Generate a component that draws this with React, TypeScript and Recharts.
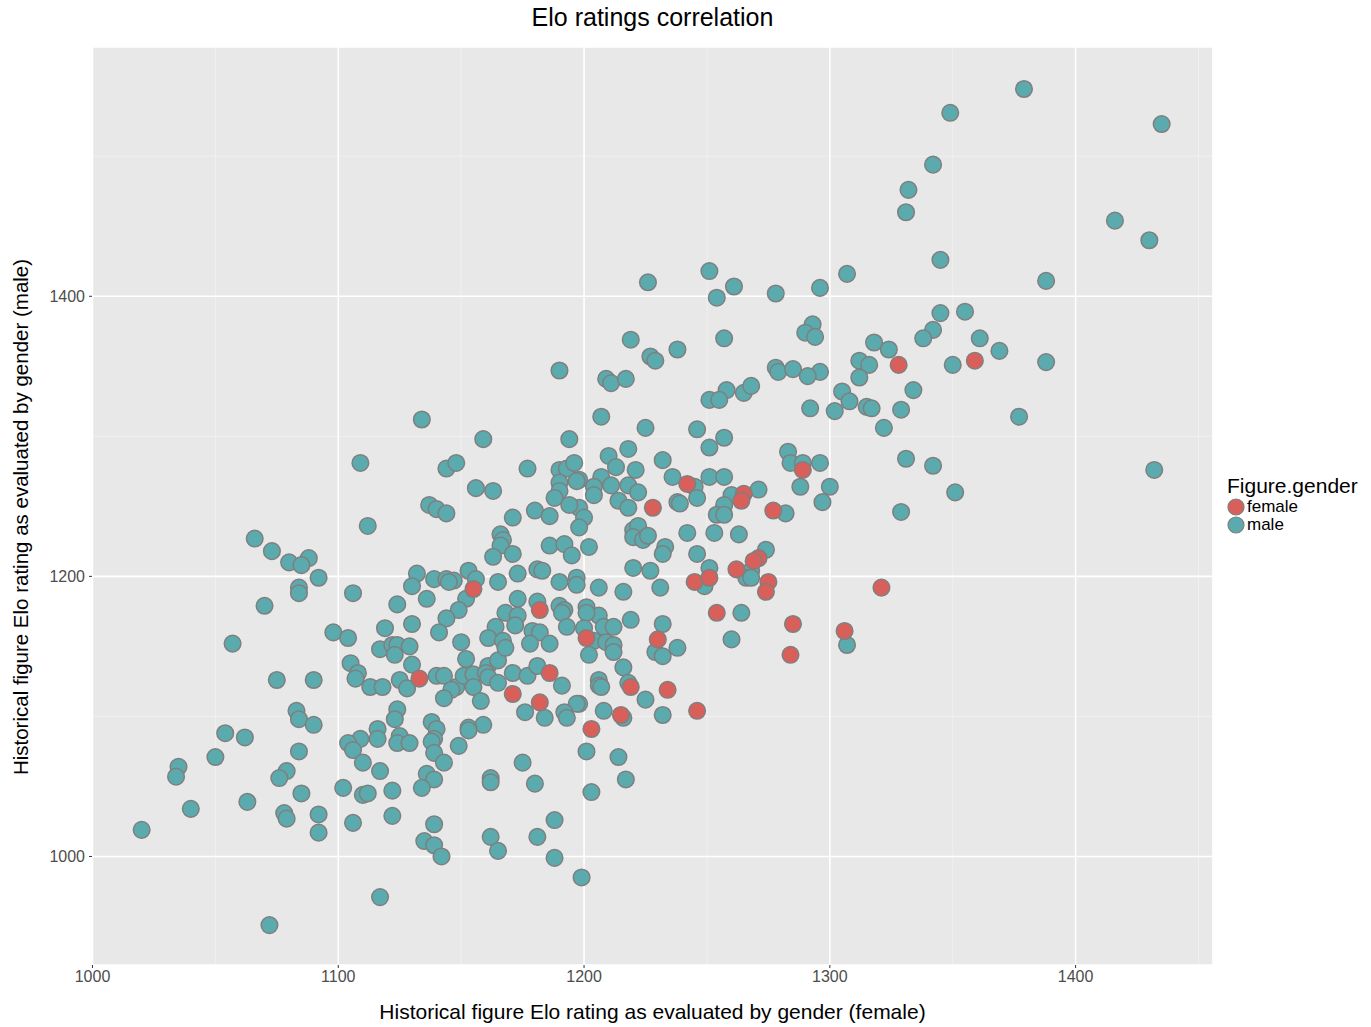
import React from "react";
import {
  ScatterChart,
  Scatter,
  XAxis,
  YAxis,
  CartesianGrid,
} from "recharts";

// [female-rated Elo, male-rated Elo] per historical figure
const femaleFigures: [number, number][] = [
  [1328, 1351], [1359, 1354], [1321, 1192], [1242, 1266], [1265, 1259],
  [1264, 1254], [1277, 1247], [1228, 1249], [1289, 1276], [1271, 1213],
  [1269, 1211], [1262, 1205], [1245, 1196], [1251, 1199], [1275, 1196],
  [1274, 1189], [1254, 1174], [1285, 1166], [1306, 1161], [1284, 1144],
  [1201, 1156], [1230, 1155], [1219, 1121], [1234, 1119], [1215, 1101],
  [1246, 1104], [1203, 1091], [1133, 1127], [1186, 1131], [1171, 1116],
  [1182, 1110], [1155, 1191], [1182, 1176],
];

const maleFigures: [number, number][] = [
  [1379, 1548], [1349, 1531], [1435, 1523], [1342, 1494], [1332, 1476],
  [1331, 1460], [1416, 1454], [1430, 1440], [1345, 1426], [1307, 1416],
  [1296, 1406], [1388, 1411], [1345, 1388], [1355, 1389], [1342, 1376],
  [1338, 1370], [1361, 1370], [1369, 1361], [1318, 1367], [1324, 1362],
  [1312, 1354], [1316, 1351], [1350, 1351], [1388, 1353], [1312, 1342],
  [1305, 1332], [1334, 1333], [1308, 1325], [1315, 1321], [1317, 1320],
  [1302, 1318], [1329, 1319], [1377, 1314], [1322, 1306], [1331, 1284],
  [1342, 1279], [1432, 1276], [1300, 1264], [1351, 1260], [1296, 1281],
  [1296, 1346], [1329, 1246],
  [1190, 1347], [1226, 1410], [1219, 1369], [1227, 1357], [1229, 1354],
  [1238, 1362], [1209, 1341], [1211, 1338], [1217, 1341], [1251, 1418],
  [1261, 1407], [1254, 1399], [1278, 1402], [1257, 1370], [1293, 1380],
  [1290, 1374], [1294, 1371], [1278, 1349], [1279, 1346], [1285, 1348],
  [1291, 1343], [1258, 1333], [1265, 1331], [1268, 1336], [1251, 1326],
  [1255, 1326],
  [1207, 1314], [1225, 1306], [1292, 1320], [1246, 1305], [1251, 1292],
  [1257, 1299], [1218, 1291], [1210, 1286], [1213, 1278], [1232, 1283],
  [1221, 1276], [1207, 1271], [1211, 1265], [1204, 1264], [1204, 1258],
  [1198, 1269], [1218, 1265], [1222, 1260], [1236, 1271], [1245, 1264],
  [1246, 1256], [1251, 1271], [1257, 1271], [1260, 1258], [1271, 1262],
  [1257, 1251], [1254, 1244], [1257, 1244], [1282, 1245], [1214, 1254],
  [1218, 1249], [1238, 1253], [1239, 1252], [1283, 1289], [1284, 1281],
  [1289, 1281], [1288, 1264], [1297, 1253], [1198, 1249], [1200, 1242],
  [1198, 1235], [1202, 1221], [1220, 1233], [1222, 1236], [1220, 1228],
  [1224, 1226], [1226, 1229], [1242, 1231], [1253, 1231], [1263, 1230],
  [1233, 1221], [1232, 1216], [1246, 1216], [1274, 1219], [1268, 1204],
  [1251, 1206], [1266, 1199], [1268, 1199], [1249, 1193], [1220, 1206],
  [1227, 1204], [1231, 1192], [1206, 1192], [1216, 1189], [1264, 1174],
  [1307, 1151], [1260, 1155], [1219, 1169], [1232, 1166], [1206, 1172],
  [1208, 1164], [1212, 1164], [1204, 1154], [1209, 1153], [1212, 1151],
  [1212, 1146], [1202, 1144], [1229, 1146], [1232, 1143], [1238, 1149],
  [1216, 1135], [1206, 1126], [1218, 1124],
  [1206, 1122], [1207, 1121], [1225, 1112], [1198, 1109], [1208, 1104],
  [1216, 1099], [1232, 1101], [1201, 1075], [1214, 1071], [1217, 1055],
  [1203, 1046], [1199, 985],
  [1105, 1138], [1108, 1131], [1107, 1127], [1113, 1121], [1118, 1121],
  [1130, 1137], [1125, 1126], [1128, 1120], [1140, 1129], [1143, 1129],
  [1152, 1141], [1148, 1121], [1146, 1119], [1143, 1113], [1151, 1129],
  [1155, 1130], [1161, 1136], [1165, 1140], [1160, 1131], [1161, 1128],
  [1165, 1124], [1155, 1121], [1158, 1111], [1171, 1131], [1177, 1129],
  [1181, 1136], [1176, 1103], [1184, 1099], [1191, 1122], [1197, 1109],
  [1192, 1103], [1193, 1099], [1188, 1026], [1181, 1014], [1188, 999],
  [1175, 1067], [1180, 1052], [1162, 1056], [1162, 1053], [1162, 1014],
  [1165, 1004], [1159, 1094], [1153, 1092], [1153, 1090], [1149, 1079],
  [1138, 1096], [1140, 1091], [1139, 1084], [1138, 1082], [1139, 1074],
  [1143, 1067], [1136, 1059], [1139, 1055], [1134, 1049], [1139, 1023],
  [1135, 1011], [1139, 1008], [1142, 1000], [1124, 1105], [1123, 1098],
  [1116, 1091], [1116, 1084], [1109, 1084], [1104, 1081], [1106, 1076],
  [1110, 1067], [1117, 1061], [1125, 1086], [1124, 1081], [1129, 1081],
  [1122, 1047], [1102, 1049], [1110, 1044], [1112, 1045], [1106, 1024],
  [1122, 1029], [1117, 971],
  [1112, 1236], [1066, 1227], [1073, 1218], [1080, 1210], [1088, 1213],
  [1085, 1208], [1092, 1199], [1084, 1192], [1084, 1188], [1106, 1188],
  [1070, 1179], [1124, 1180], [1057, 1152], [1098, 1160], [1104, 1156],
  [1119, 1163], [1117, 1148], [1122, 1151], [1124, 1151], [1123, 1144],
  [1075, 1126], [1090, 1126], [1083, 1104], [1084, 1098], [1090, 1094],
  [1054, 1088], [1062, 1085], [1050, 1071], [1035, 1064], [1034, 1057],
  [1040, 1034], [1020, 1019], [1084, 1075], [1079, 1061], [1076, 1056],
  [1085, 1045], [1063, 1039], [1078, 1031], [1079, 1027], [1092, 1030],
  [1092, 1017], [1072, 951],
  [1134, 1312], [1159, 1298], [1194, 1298], [1109, 1281], [1144, 1277],
  [1148, 1281], [1177, 1277], [1190, 1276], [1193, 1277], [1196, 1281],
  [1190, 1267], [1190, 1261], [1188, 1256], [1197, 1268], [1156, 1263],
  [1163, 1261], [1137, 1251], [1140, 1248], [1144, 1245], [1171, 1242],
  [1180, 1247], [1186, 1243], [1194, 1251], [1166, 1230], [1167, 1226],
  [1166, 1222], [1163, 1214], [1171, 1216], [1186, 1222], [1192, 1223],
  [1195, 1215], [1132, 1202], [1130, 1193], [1139, 1198], [1144, 1198],
  [1147, 1197], [1145, 1196], [1153, 1204], [1156, 1198], [1152, 1184],
  [1149, 1176], [1144, 1170], [1141, 1160], [1165, 1196], [1173, 1202],
  [1181, 1205], [1183, 1204], [1190, 1196], [1197, 1199], [1197, 1194],
  [1136, 1184], [1173, 1184], [1181, 1182], [1190, 1179], [1192, 1176],
  [1191, 1174], [1201, 1178], [1201, 1174], [1130, 1166], [1168, 1174],
  [1173, 1172], [1172, 1165], [1164, 1164], [1161, 1156], [1167, 1154],
  [1168, 1149], [1150, 1153], [1179, 1161], [1182, 1160], [1178, 1152],
  [1186, 1152], [1193, 1164], [1200, 1163], [1129, 1150],
];

const xTicks = [1000, 1100, 1200, 1300, 1400];
const xMinorTicks = [1050, 1150, 1250, 1350, 1450];
const yTicks = [1000, 1200, 1400];
const yMinorTicks = [1100, 1300, 1500];

const FEMALE_COLOR = "#D9605A";
const MALE_COLOR = "#5BAAAD";
const FONT = "'Liberation Sans', Arial, sans-serif";

const toPoints = (rows: [number, number][]) => rows.map(([x, y]) => ({ x, y }));

const dot = (color: string) => (props: any) => (
  <circle
    cx={props.cx}
    cy={props.cy}
    r={8.3}
    fill={color}
    stroke="#7F7F7F"
    strokeWidth={1.5}
  />
);

export default function App() {
  const xDomain: [number, number] = [999.8, 1455.9];
  const yDomain: [number, number] = [922.5, 1578];

  return (
    <div style={{ position: "absolute", left: 0, top: 0, width: 1371, height: 1027, background: "#fff", fontFamily: FONT }}>
      <ScatterChart
        width={1371}
        height={1027}
        margin={{ top: 47, right: 158, bottom: 0, left: 0 }}
      >
        <CartesianGrid
          xAxisId="minor"
          yAxisId="minor"
          fill="#E8E8E8"
          stroke="#F3F3F3"
          strokeWidth={0.8}
        />
        <CartesianGrid stroke="#FFFFFF" strokeWidth={1.6} />
        <XAxis
          xAxisId="minor"
          type="number"
          dataKey="x"
          domain={xDomain}
          ticks={xMinorTicks}
          allowDataOverflow
          hide
        />
        <YAxis
          yAxisId="minor"
          type="number"
          dataKey="y"
          domain={yDomain}
          ticks={yMinorTicks}
          allowDataOverflow
          hide
        />
        <XAxis
          type="number"
          dataKey="x"
          domain={xDomain}
          ticks={xTicks}
          allowDataOverflow
          height={62}
          axisLine={false}
          tickSize={3}
          tickMargin={3}
          tickLine={{ stroke: "#333333" }}
          tick={{ fill: "#4D4D4D", fontSize: 16, fontFamily: FONT }}
        />
        <YAxis
          type="number"
          dataKey="y"
          domain={yDomain}
          ticks={yTicks}
          allowDataOverflow
          width={92}
          axisLine={false}
          tickSize={3}
          tickMargin={4}
          tickLine={{ stroke: "#333333" }}
          tick={{ fill: "#4D4D4D", fontSize: 16, fontFamily: FONT }}
        />
        <Scatter
          name="male"
          data={toPoints(maleFigures)}
          shape={dot(MALE_COLOR)}
          isAnimationActive={false}
        />
        <Scatter
          name="female"
          data={toPoints(femaleFigures)}
          shape={dot(FEMALE_COLOR)}
          isAnimationActive={false}
        />
      </ScatterChart>

      <div style={{ position: "absolute", left: 92, width: 1121, top: 3, textAlign: "center", fontSize: 25, color: "#000" }}>
        Elo ratings correlation
      </div>
      <div style={{ position: "absolute", left: 92, width: 1121, top: 1000, textAlign: "center", fontSize: 21, color: "#000" }}>
        Historical figure Elo rating as evaluated by gender (female)
      </div>
      <div
        style={{
          position: "absolute",
          left: 21,
          top: 517,
          transform: "translate(-50%, -50%) rotate(-90deg)",
          whiteSpace: "nowrap",
          fontSize: 20.5,
          color: "#000",
        }}
      >
        Historical figure Elo rating as evaluated by gender (male)
      </div>

      <div style={{ position: "absolute", left: 1227, top: 474, fontSize: 21, lineHeight: "24px", color: "#000" }}>
        Figure.gender
        {[
          { label: "female", color: FEMALE_COLOR },
          { label: "male", color: MALE_COLOR },
        ].map((item) => (
          <div key={item.label} style={{ display: "flex", alignItems: "center", height: 18, fontSize: 17, lineHeight: "18px" }}>
            <svg width={19} height={18}>
              <circle cx={9} cy={9} r={8} fill={item.color} stroke="#7F7F7F" strokeWidth={1.2} />
            </svg>
            <span style={{ marginLeft: 1 }}>{item.label}</span>
          </div>
        ))}
      </div>
    </div>
  );
}
